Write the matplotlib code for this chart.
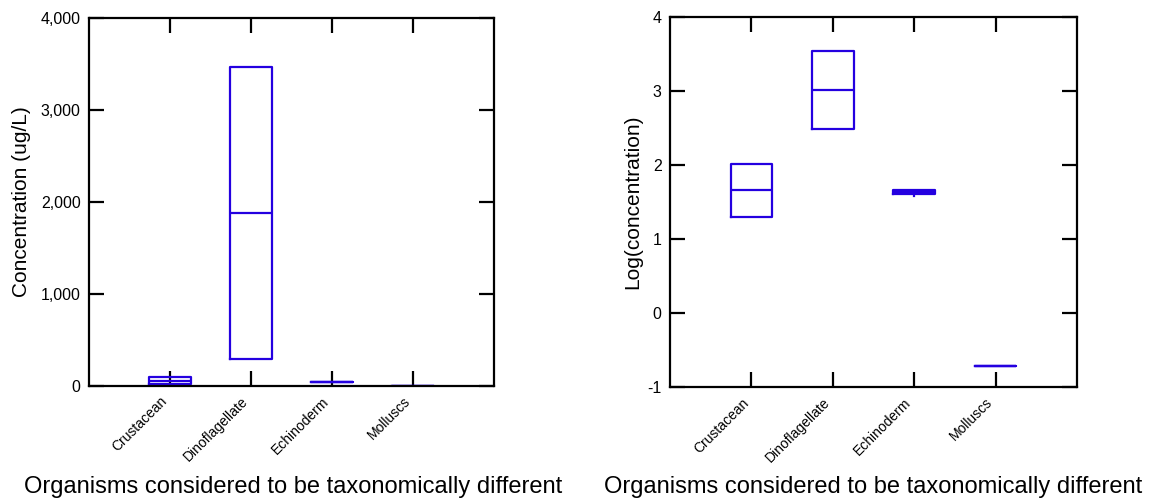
import matplotlib
matplotlib.use("Agg")
import matplotlib.pyplot as plt
import matplotlib.transforms as mtransforms

plt.rcParams['font.family'] = ['Liberation Sans', 'DejaVu Sans']

groups = ["Crustacean", "Dinoflagellate", "Echinoderm", "Molluscs"]

# raw concentration (ug/L) box stats
conc_whislo = [20, 293, 38, 0.19]
conc_q1 = [20, 293, 41, 0.19]
conc_med = [58, 1884, 43.5, 0.19]
conc_q3 = [102, 3467, 46, 0.19]
conc_whishi = [102, 3467, 46, 0.19]

# log10 concentration box stats
log_whislo = [1.30, 2.48, 1.58, -0.72]
log_q1 = [1.30, 2.48, 1.615, -0.72]
log_med = [1.656, 3.01, 1.64, -0.72]
log_q3 = [2.01, 3.535, 1.66, -0.72]
log_whishi = [2.01, 3.535, 1.66, -0.72]

conc_ticks = [0, 1000, 2000, 3000, 4000]
conc_ticklabels = ["0", "1,000", "2,000", "3,000", "4,000"]
log_ticks = [-1, 0, 1, 2, 3, 4]
log_ticklabels = ["-1", "0", "1", "2", "3", "4"]

xlabel = "Organisms considered to be taxonomically different"
blue = "#2400e0"


def make_stats(lo, q1, med, q3, hi):
    out = []
    for i in range(len(groups)):
        out.append(dict(label=groups[i], whislo=lo[i], q1=q1[i], med=med[i],
                        q3=q3[i], whishi=hi[i], fliers=[]))
    return out


def draw_panel(ax, stats, ticks, ticklabels, ylim):
    lp = dict(color=blue, linewidth=1.6)
    ax.bxp(stats, positions=range(1, len(groups) + 1), widths=0.51,
           showcaps=False, showfliers=False,
           boxprops=lp, medianprops=lp, whiskerprops=lp)
    ax.set_xlim(0, 5)
    ax.set_ylim(*ylim)
    ax.set_yticks(ticks)
    ax.set_yticklabels(ticklabels, fontsize=11.5)
    ax.set_xticks(range(1, len(groups) + 1))
    ax.set_xticklabels(groups, rotation=45, ha="right", fontsize=10)
    # nudge the slanted labels a little to the right, like the original
    shift = mtransforms.ScaledTranslation(5 / 100, -3 / 100, fig.dpi_scale_trans)
    for lab in ax.get_xticklabels():
        lab.set_transform(lab.get_transform() + shift)
    ax.tick_params(direction="in", length=11, width=1.6, top=True, right=True,
                   color="black")
    ax.tick_params(axis="x", pad=6)
    ax.tick_params(axis="y", pad=6)
    for s in ax.spines.values():
        s.set_linewidth(1.6)


fig = plt.figure(figsize=(11.49, 4.99), dpi=100)

ax1 = fig.add_axes([0.0775, 0.2265, 0.3525, 0.7375])
draw_panel(ax1, make_stats(conc_whislo, conc_q1, conc_med, conc_q3, conc_whishi),
           conc_ticks, conc_ticklabels, (0, 4000))

ax2 = fig.add_axes([0.5831, 0.2244, 0.3542, 0.7415])
draw_panel(ax2, make_stats(log_whislo, log_q1, log_med, log_q3, log_whishi),
           log_ticks, log_ticklabels, (-1, 4))

fig.text(0.019, 0.595, "Concentration (ug/L)", rotation=90, ha="center",
         va="center", fontsize=15)
fig.text(0.551, 0.595, "Log(concentration)", rotation=90, ha="center",
         va="center", fontsize=15)
fig.text(0.255, 0.012, xlabel, ha="center", va="baseline", fontsize=17)
fig.text(0.760, 0.012, xlabel, ha="center", va="baseline", fontsize=17)

fig.savefig("out.png", dpi=100)
